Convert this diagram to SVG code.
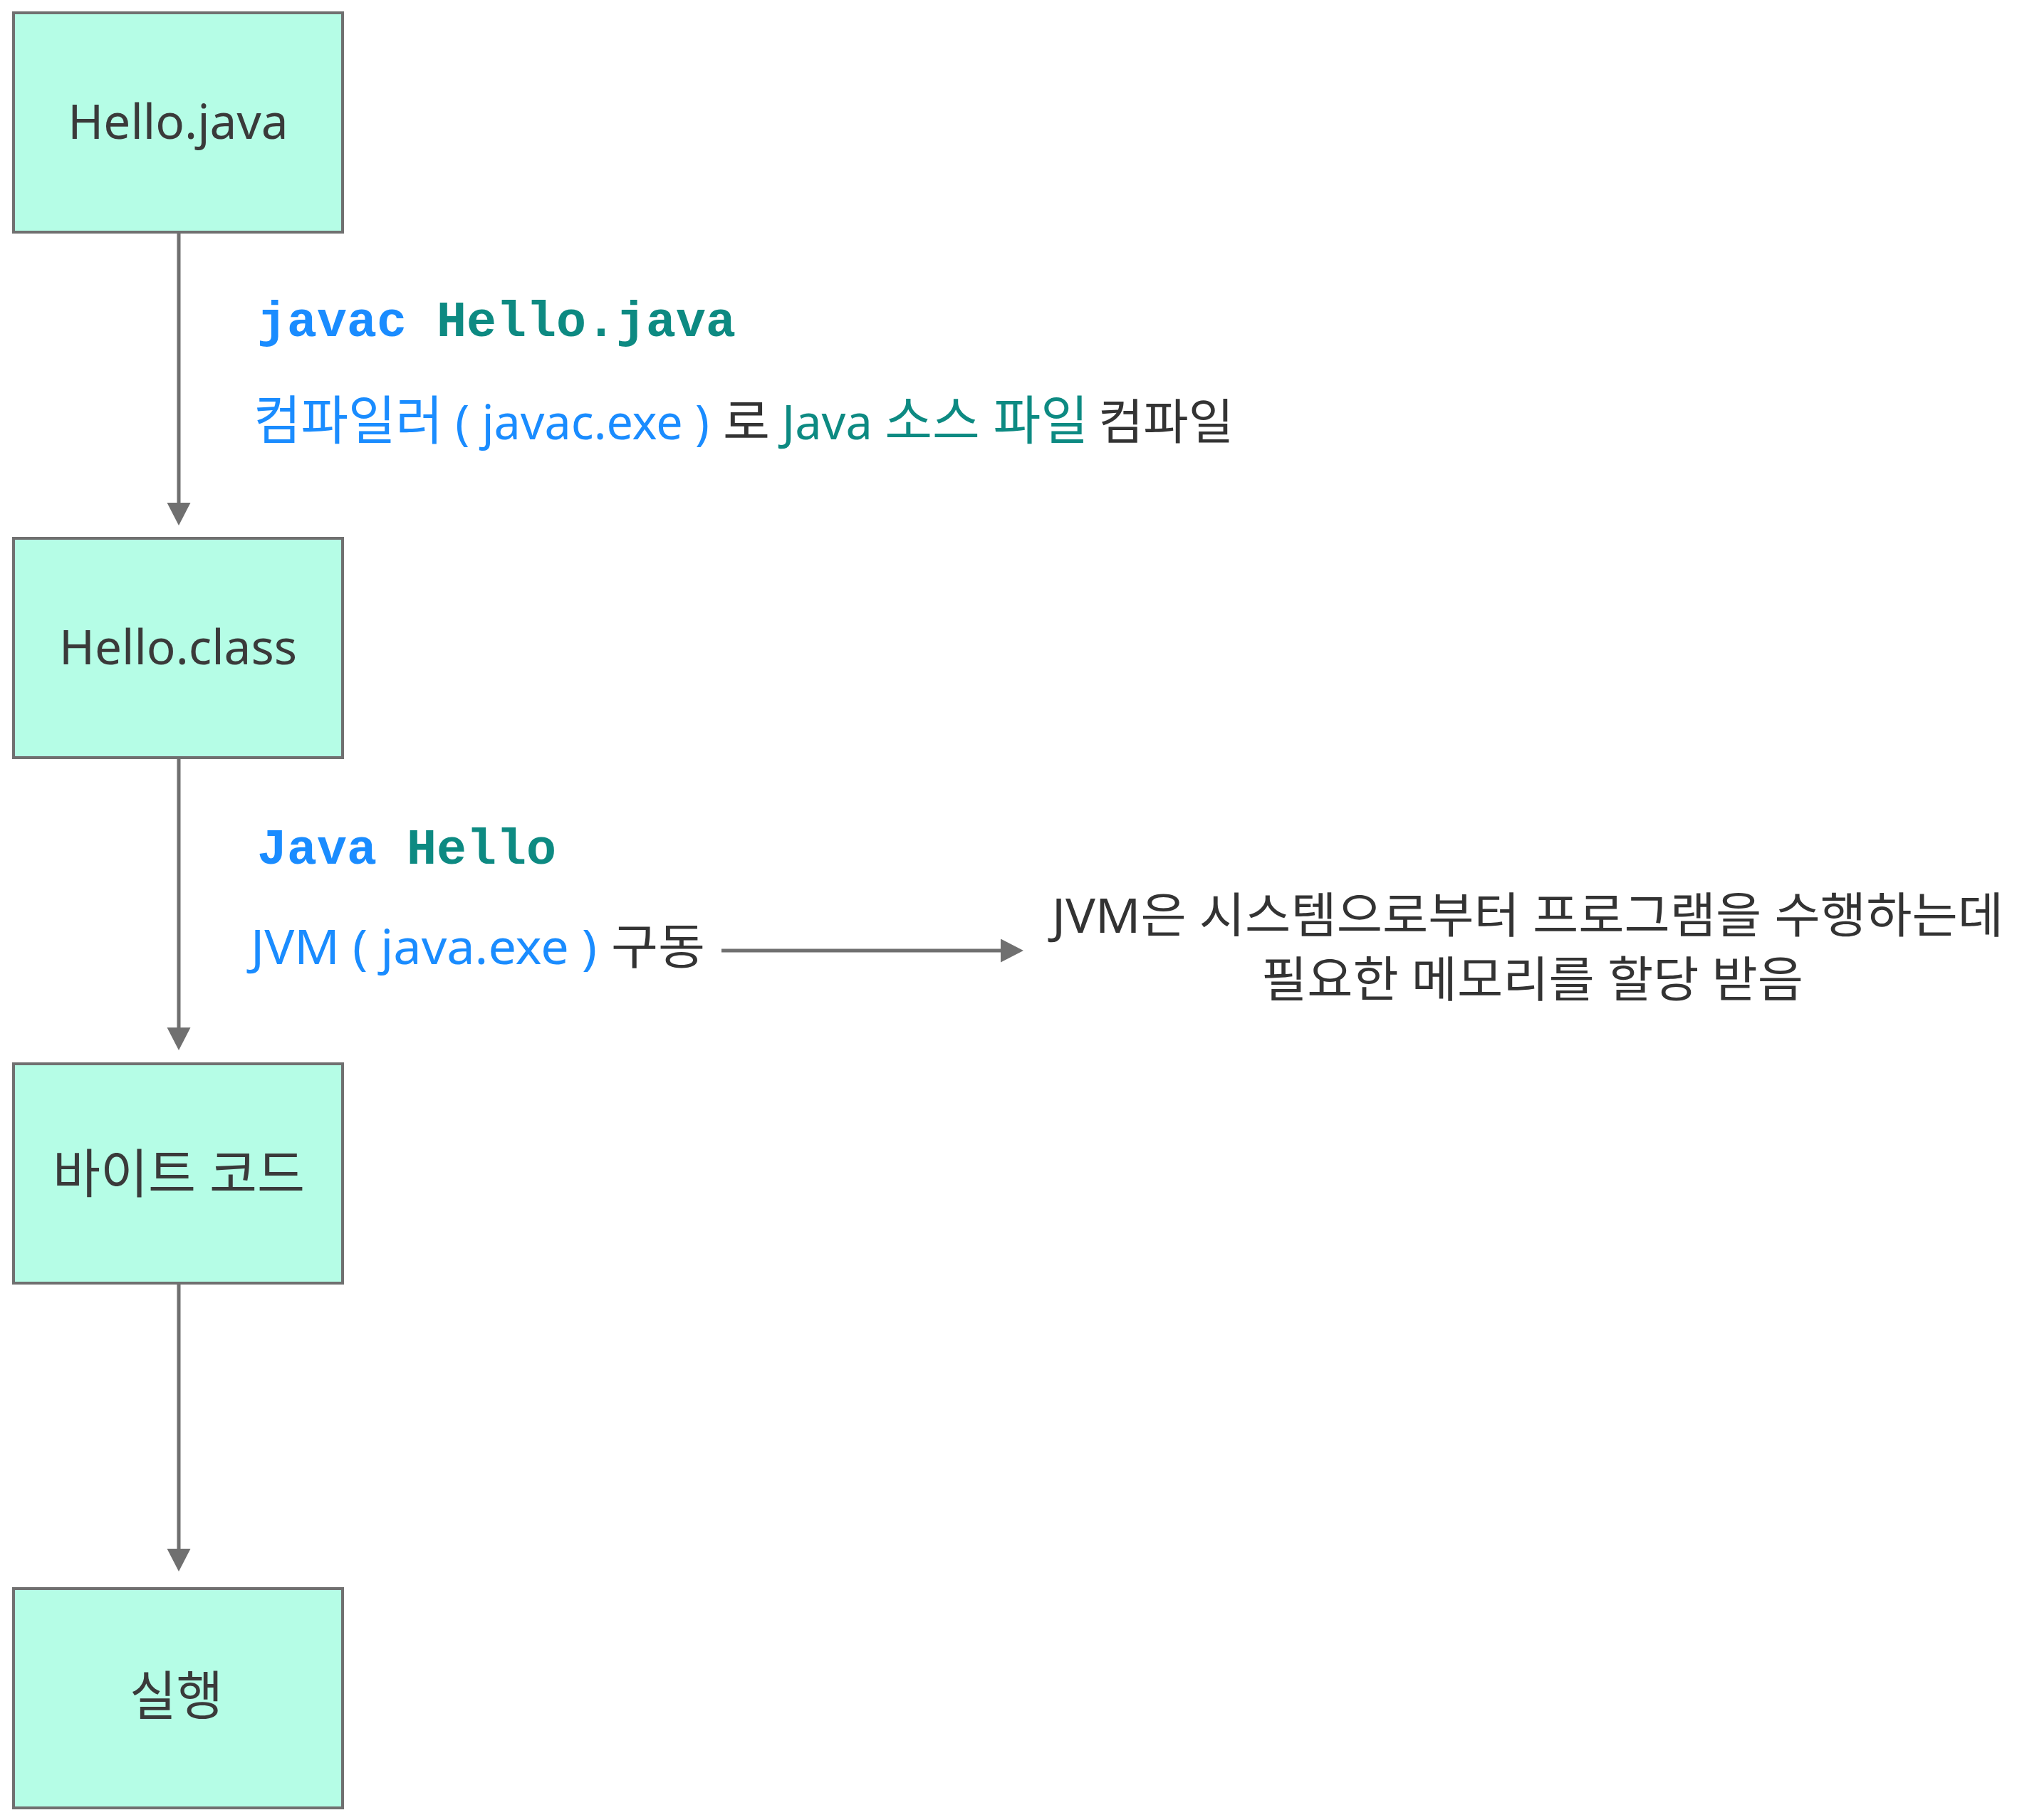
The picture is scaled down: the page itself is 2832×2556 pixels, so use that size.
<svg xmlns="http://www.w3.org/2000/svg" width="2832" height="2556" viewBox="0 0 2832 2556">
<style>
.box{fill:#b5fde6;stroke:#707070;stroke-width:4}
.lbl{font-family:"Noto Sans","Noto Sans CJK KR",sans-serif;font-size:67.5px;fill:#3a3a3a}
.ko{font-size:74px}
.mono{font-family:"Liberation Mono",monospace;font-weight:bold;font-size:70px}
.txt{font-family:"Noto Sans","Noto Sans CJK KR",sans-serif;font-size:68px;fill:#333333}
.blue{fill:#1a8cff}
.teal{fill:#0d8a82}
.dark{fill:#333333}
.conn{stroke:#707070;stroke-width:5;fill:none}
</style>
<defs>
<marker id="ah" markerUnits="userSpaceOnUse" markerWidth="34" markerHeight="34" refX="0" refY="16.5" orient="auto" viewBox="0 0 34 34">
<path d="M0,0 L32,16.5 L0,33 z" fill="#707070"/>
</marker>
</defs>
<rect width="2832" height="2556" fill="#ffffff"/>
<g id="connectors">
<line class="conn" x1="251" y1="328" x2="251" y2="706" marker-end="url(#ah)"/>
<line class="conn" x1="251" y1="1064" x2="251" y2="1443" marker-end="url(#ah)"/>
<line class="conn" x1="251" y1="1800" x2="251" y2="2175" marker-end="url(#ah)"/>
<line class="conn" x1="1013" y1="1335" x2="1405" y2="1335" marker-end="url(#ah)"/>
</g>
<g id="node-hello-java">
<rect class="box" x="19" y="18" width="462" height="308"/>
<text class="lbl" x="250" y="195" text-anchor="middle">Hello.java</text>
</g>
<g id="node-hello-class">
<rect class="box" x="19" y="756" width="462" height="308"/>
<text class="lbl" x="250" y="933" text-anchor="middle">Hello.class</text>
</g>
<g id="node-bytecode">
<rect class="box" x="19" y="1494" width="462" height="308"/>
<text class="lbl ko" x="74" y="1675" textLength="354" lengthAdjust="spacingAndGlyphs">바이트 코드</text>
</g>
<g id="node-run">
<rect class="box" x="19" y="2231" width="462" height="308"/>
<text class="lbl ko" x="182" y="2408" textLength="131" lengthAdjust="spacingAndGlyphs">실행</text>
</g>
<g id="label-compile">
<text class="mono" x="361" y="472"><tspan class="blue">javac </tspan><tspan class="teal">Hello.java</tspan></text>
<text class="txt blue" x="356" y="617" textLength="640" lengthAdjust="spacingAndGlyphs"><tspan class="ko">컴파일러</tspan> ( javac.exe )</text>
<text class="txt dark ko" x="1015" y="617" textLength="66" lengthAdjust="spacingAndGlyphs">로</text>
<text class="txt teal" x="1098" y="617" textLength="430" lengthAdjust="spacingAndGlyphs">Java <tspan class="ko">소스 파일</tspan></text>
<text class="txt dark ko" x="1542" y="617" textLength="190" lengthAdjust="spacingAndGlyphs">컴파일</text>
</g>
<g id="label-run">
<text class="mono" x="361" y="1213"><tspan class="blue">Java </tspan><tspan class="teal">Hello</tspan></text>
<text class="txt blue" x="352" y="1354" textLength="486" lengthAdjust="spacingAndGlyphs">JVM ( java.exe )</text>
<text class="txt dark ko" x="858" y="1354" textLength="132" lengthAdjust="spacingAndGlyphs">구동</text>
</g>
<g id="note-jvm">
<text class="txt ko" x="1477" y="1310" textLength="1336" lengthAdjust="spacingAndGlyphs">JVM은 시스템으로부터 프로그램을 수행하는데</text>
<text class="txt ko" x="1771" y="1400" textLength="761" lengthAdjust="spacingAndGlyphs">필요한 메모리를 할당 받음</text>
</g>
</svg>
